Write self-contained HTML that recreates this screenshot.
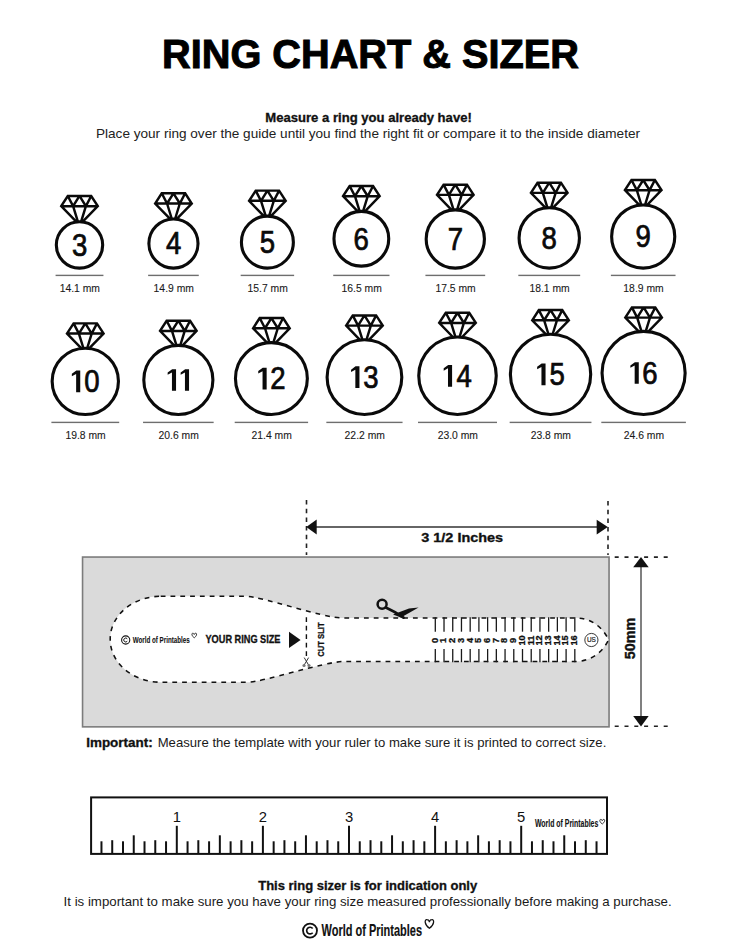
<!DOCTYPE html><html><head><meta charset="utf-8"><style>
html,body{margin:0;padding:0;background:#fff;width:735px;height:951px;overflow:hidden}
svg{display:block}
text{font-family:"Liberation Sans",sans-serif}
</style></head><body>
<svg width="735" height="951" viewBox="0 0 735 951">
<rect width="735" height="951" fill="#fff"/>
<text x="162" y="67.8" font-size="40.4" font-weight="bold" text-anchor="start" fill="#000" textLength="417" lengthAdjust="spacingAndGlyphs" stroke="#000" stroke-width="1">RING CHART &amp; SIZER</text>
<text x="265.3" y="121.8" font-size="12.4" font-weight="bold" text-anchor="start" fill="#111" textLength="206.5" lengthAdjust="spacingAndGlyphs" stroke="#111" stroke-width="0.3">Measure a ring you already have!</text>
<text x="96" y="137.8" font-size="12.4" font-weight="normal" text-anchor="start" fill="#222" textLength="544" lengthAdjust="spacingAndGlyphs" >Place your ring over the guide until you find the right fit or compare it to the inside diameter</text>
<circle cx="79.50" cy="244.93" r="23.18" fill="none" stroke="#0a0a0a" stroke-width="3.1"/>
<path d="M76.50,221.94 L61.20,206.17 L67.80,195.97 L91.20,195.97 L97.80,206.17 L82.50,221.94 M61.20,206.17 L97.80,206.17 M67.80,195.97 L73.10,206.17 M79.50,195.97 L73.10,206.17 M79.50,195.97 L85.90,206.17 L91.20,195.97 M73.10,206.17 L77.95,221.80 M85.90,206.17 L81.05,221.80" fill="none" stroke="#0a0a0a" stroke-width="2.45" stroke-linejoin="miter" stroke-miterlimit="3"/>
<text x="0" y="0" font-size="30.6" fill="#0a0a0a" stroke="#0a0a0a" stroke-width="0.75" transform="translate(71.92,255.83) scale(0.9,1)">3</text>
<rect x="55.58" y="274.70" width="47.85" height="1.4" fill="#6e6e6e"/>
<text x="0" y="0" font-size="10.9" text-anchor="middle" fill="#1a1a1a" stroke="#1a1a1a" stroke-width="0.1" transform="translate(79.80,291.8) scale(0.95,1)">14.1 mm</text>
<circle cx="173.45" cy="243.53" r="24.57" fill="none" stroke="#0a0a0a" stroke-width="3.1"/>
<path d="M170.33,219.15 L155.15,203.50 L161.75,193.30 L185.15,193.30 L191.75,203.50 L176.57,219.15 M155.15,203.50 L191.75,203.50 M161.75,193.30 L167.05,203.50 M173.45,193.30 L167.05,203.50 M173.45,193.30 L179.85,203.50 L185.15,193.30 M167.05,203.50 L171.85,219.00 M179.85,203.50 L175.05,219.00" fill="none" stroke="#0a0a0a" stroke-width="2.45" stroke-linejoin="miter" stroke-miterlimit="3"/>
<text x="0" y="0" font-size="30.6" fill="#0a0a0a" stroke="#0a0a0a" stroke-width="0.75" transform="translate(165.88,254.43) scale(0.9,1)">4</text>
<rect x="148.12" y="274.70" width="50.65" height="1.4" fill="#6e6e6e"/>
<text x="0" y="0" font-size="10.9" text-anchor="middle" fill="#1a1a1a" stroke="#1a1a1a" stroke-width="0.1" transform="translate(173.75,291.8) scale(0.95,1)">14.9 mm</text>
<circle cx="267.40" cy="242.13" r="25.97" fill="none" stroke="#0a0a0a" stroke-width="3.1"/>
<path d="M264.15,216.35 L249.10,200.84 L255.70,190.64 L279.10,190.64 L285.70,200.84 L270.65,216.35 M249.10,200.84 L285.70,200.84 M255.70,190.64 L261.00,200.84 M267.40,190.64 L261.00,200.84 M267.40,190.64 L273.80,200.84 L279.10,190.64 M261.00,200.84 L265.76,216.20 M273.80,200.84 L269.04,216.20" fill="none" stroke="#0a0a0a" stroke-width="2.45" stroke-linejoin="miter" stroke-miterlimit="3"/>
<text x="0" y="0" font-size="30.6" fill="#0a0a0a" stroke="#0a0a0a" stroke-width="0.75" transform="translate(259.77,253.03) scale(0.9,1)">5</text>
<rect x="240.67" y="274.70" width="53.45" height="1.4" fill="#6e6e6e"/>
<text x="0" y="0" font-size="10.9" text-anchor="middle" fill="#1a1a1a" stroke="#1a1a1a" stroke-width="0.1" transform="translate(267.70,291.8) scale(0.95,1)">15.7 mm</text>
<circle cx="361.35" cy="238.73" r="27.38" fill="none" stroke="#0a0a0a" stroke-width="3.1"/>
<path d="M357.97,211.56 L343.05,196.18 L349.65,185.98 L373.05,185.98 L379.65,196.18 L364.73,211.56 M343.05,196.18 L379.65,196.18 M349.65,185.98 L354.95,196.18 M361.35,185.98 L354.95,196.18 M361.35,185.98 L367.75,196.18 L373.05,185.98 M354.95,196.18 L359.67,211.40 M367.75,196.18 L363.03,211.40" fill="none" stroke="#0a0a0a" stroke-width="2.45" stroke-linejoin="miter" stroke-miterlimit="3"/>
<text x="0" y="0" font-size="30.6" fill="#0a0a0a" stroke="#0a0a0a" stroke-width="0.75" transform="translate(353.60,249.63) scale(0.9,1)">6</text>
<rect x="333.23" y="274.70" width="56.25" height="1.4" fill="#6e6e6e"/>
<text x="0" y="0" font-size="10.9" text-anchor="middle" fill="#1a1a1a" stroke="#1a1a1a" stroke-width="0.1" transform="translate(361.65,291.8) scale(0.95,1)">16.5 mm</text>
<circle cx="455.30" cy="238.98" r="29.12" fill="none" stroke="#0a0a0a" stroke-width="3.1"/>
<path d="M451.76,210.07 L437.00,194.85 L443.60,184.65 L467.00,184.65 L473.60,194.85 L458.84,210.07 M437.00,194.85 L473.60,194.85 M443.60,184.65 L448.90,194.85 M455.30,184.65 L448.90,194.85 M455.30,184.65 L461.70,194.85 L467.00,184.65 M448.90,194.85 L453.57,209.90 M461.70,194.85 L457.03,209.90" fill="none" stroke="#0a0a0a" stroke-width="2.45" stroke-linejoin="miter" stroke-miterlimit="3"/>
<text x="0" y="0" font-size="30.6" fill="#0a0a0a" stroke="#0a0a0a" stroke-width="0.75" transform="translate(447.63,249.88) scale(0.9,1)">7</text>
<rect x="425.43" y="274.70" width="59.75" height="1.4" fill="#6e6e6e"/>
<text x="0" y="0" font-size="10.9" text-anchor="middle" fill="#1a1a1a" stroke="#1a1a1a" stroke-width="0.1" transform="translate(455.60,291.8) scale(0.95,1)">17.5 mm</text>
<circle cx="549.25" cy="237.93" r="30.18" fill="none" stroke="#0a0a0a" stroke-width="3.1"/>
<path d="M545.62,207.97 L530.95,192.85 L537.55,182.65 L560.95,182.65 L567.55,192.85 L552.88,207.97 M530.95,192.85 L567.55,192.85 M537.55,182.65 L542.85,192.85 M549.25,182.65 L542.85,192.85 M549.25,182.65 L555.65,192.85 L560.95,182.65 M542.85,192.85 L547.49,207.80 M555.65,192.85 L551.01,207.80" fill="none" stroke="#0a0a0a" stroke-width="2.45" stroke-linejoin="miter" stroke-miterlimit="3"/>
<text x="0" y="0" font-size="30.6" fill="#0a0a0a" stroke="#0a0a0a" stroke-width="0.75" transform="translate(541.59,248.83) scale(0.9,1)">8</text>
<rect x="518.33" y="274.70" width="61.85" height="1.4" fill="#6e6e6e"/>
<text x="0" y="0" font-size="10.9" text-anchor="middle" fill="#1a1a1a" stroke="#1a1a1a" stroke-width="0.1" transform="translate(549.55,291.8) scale(0.95,1)">18.1 mm</text>
<circle cx="643.20" cy="236.53" r="31.57" fill="none" stroke="#0a0a0a" stroke-width="3.1"/>
<path d="M639.44,205.17 L624.90,190.18 L631.50,179.98 L654.90,179.98 L661.50,190.18 L646.96,205.17 M624.90,190.18 L661.50,190.18 M631.50,179.98 L636.80,190.18 M643.20,179.98 L636.80,190.18 M643.20,179.98 L649.60,190.18 L654.90,179.98 M636.80,190.18 L641.39,205.00 M649.60,190.18 L645.01,205.00" fill="none" stroke="#0a0a0a" stroke-width="2.45" stroke-linejoin="miter" stroke-miterlimit="3"/>
<text x="0" y="0" font-size="30.6" fill="#0a0a0a" stroke="#0a0a0a" stroke-width="0.75" transform="translate(635.55,247.43) scale(0.9,1)">9</text>
<rect x="610.88" y="274.70" width="64.65" height="1.4" fill="#6e6e6e"/>
<text x="0" y="0" font-size="10.9" text-anchor="middle" fill="#1a1a1a" stroke="#1a1a1a" stroke-width="0.1" transform="translate(643.50,291.8) scale(0.95,1)">18.9 mm</text>
<circle cx="85.30" cy="381.35" r="33.15" fill="none" stroke="#0a0a0a" stroke-width="3.1"/>
<path d="M81.40,348.43 L67.00,333.59 L73.60,323.39 L97.00,323.39 L103.60,333.59 L89.20,348.43 M67.00,333.59 L103.60,333.59 M73.60,323.39 L78.90,333.59 M85.30,323.39 L78.90,333.59 M85.30,323.39 L91.70,333.59 L97.00,323.39 M78.90,333.59 L83.45,348.25 M91.70,333.59 L87.15,348.25" fill="none" stroke="#0a0a0a" stroke-width="2.45" stroke-linejoin="miter" stroke-miterlimit="3"/>
<polygon points="76.14,370.55 80.24,370.55 80.24,392.25 76.14,392.25 76.14,373.95 71.84,376.25 71.84,373.85 76.34,370.55" fill="#0a0a0a"/>
<text x="0" y="0" font-size="30.6" fill="#0a0a0a" stroke="#0a0a0a" stroke-width="0.75" transform="translate(84.14,392.25) scale(0.9,1)">0</text>
<rect x="51.40" y="421.70" width="67.80" height="1.4" fill="#6e6e6e"/>
<text x="0" y="0" font-size="10.9" text-anchor="middle" fill="#1a1a1a" stroke="#1a1a1a" stroke-width="0.1" transform="translate(85.60,439.1) scale(0.95,1)">19.8 mm</text>
<circle cx="178.35" cy="379.95" r="34.55" fill="none" stroke="#0a0a0a" stroke-width="3.1"/>
<path d="M174.32,345.64 L160.05,330.92 L166.65,320.72 L190.05,320.72 L196.65,330.92 L182.38,345.64 M160.05,330.92 L196.65,330.92 M166.65,320.72 L171.95,330.92 M178.35,320.72 L171.95,330.92 M178.35,320.72 L184.75,330.92 L190.05,320.72 M171.95,330.92 L176.45,345.45 M184.75,330.92 L180.25,345.45" fill="none" stroke="#0a0a0a" stroke-width="2.45" stroke-linejoin="miter" stroke-miterlimit="3"/>
<polygon points="171.95,369.15 176.05,369.15 176.05,390.85 171.95,390.85 171.95,372.55 167.65,374.85 167.65,372.45 172.15,369.15" fill="#0a0a0a"/>
<polygon points="184.95,369.15 189.05,369.15 189.05,390.85 184.95,390.85 184.95,372.55 180.65,374.85 180.65,372.45 185.15,369.15" fill="#0a0a0a"/>
<rect x="143.05" y="421.70" width="70.60" height="1.4" fill="#6e6e6e"/>
<text x="0" y="0" font-size="10.9" text-anchor="middle" fill="#1a1a1a" stroke="#1a1a1a" stroke-width="0.1" transform="translate(178.65,439.1) scale(0.95,1)">20.6 mm</text>
<circle cx="271.40" cy="378.55" r="35.95" fill="none" stroke="#0a0a0a" stroke-width="3.1"/>
<path d="M267.24,342.84 L253.10,328.26 L259.70,318.06 L283.10,318.06 L289.70,328.26 L275.56,342.84 M253.10,328.26 L289.70,328.26 M259.70,318.06 L265.00,328.26 M271.40,318.06 L265.00,328.26 M271.40,318.06 L277.80,328.26 L283.10,318.06 M265.00,328.26 L269.46,342.65 M277.80,328.26 L273.34,342.65" fill="none" stroke="#0a0a0a" stroke-width="2.45" stroke-linejoin="miter" stroke-miterlimit="3"/>
<polygon points="262.55,367.75 266.65,367.75 266.65,389.45 262.55,389.45 262.55,371.15 258.25,373.45 258.25,371.05 262.75,367.75" fill="#0a0a0a"/>
<text x="0" y="0" font-size="30.6" fill="#0a0a0a" stroke="#0a0a0a" stroke-width="0.75" transform="translate(270.24,389.45) scale(0.9,1)">2</text>
<rect x="234.70" y="421.70" width="73.40" height="1.4" fill="#6e6e6e"/>
<text x="0" y="0" font-size="10.9" text-anchor="middle" fill="#1a1a1a" stroke="#1a1a1a" stroke-width="0.1" transform="translate(271.70,439.1) scale(0.95,1)">21.4 mm</text>
<circle cx="364.45" cy="377.15" r="37.35" fill="none" stroke="#0a0a0a" stroke-width="3.1"/>
<path d="M360.17,340.05 L346.15,325.60 L352.75,315.40 L376.15,315.40 L382.75,325.60 L368.73,340.05 M346.15,325.60 L382.75,325.60 M352.75,315.40 L358.05,325.60 M364.45,315.40 L358.05,325.60 M364.45,315.40 L370.85,325.60 L376.15,315.40 M358.05,325.60 L362.47,339.85 M370.85,325.60 L366.43,339.85" fill="none" stroke="#0a0a0a" stroke-width="2.45" stroke-linejoin="miter" stroke-miterlimit="3"/>
<polygon points="355.35,366.35 359.45,366.35 359.45,388.05 355.35,388.05 355.35,369.75 351.05,372.05 351.05,369.65 355.55,366.35" fill="#0a0a0a"/>
<text x="0" y="0" font-size="30.6" fill="#0a0a0a" stroke="#0a0a0a" stroke-width="0.75" transform="translate(363.37,388.05) scale(0.9,1)">3</text>
<rect x="326.35" y="421.70" width="76.20" height="1.4" fill="#6e6e6e"/>
<text x="0" y="0" font-size="10.9" text-anchor="middle" fill="#1a1a1a" stroke="#1a1a1a" stroke-width="0.1" transform="translate(364.75,439.1) scale(0.95,1)">22.2 mm</text>
<circle cx="457.50" cy="375.75" r="38.75" fill="none" stroke="#0a0a0a" stroke-width="3.1"/>
<path d="M453.09,337.25 L439.20,322.93 L445.80,312.73 L469.20,312.73 L475.80,322.93 L461.91,337.25 M439.20,322.93 L475.80,322.93 M445.80,312.73 L451.10,322.93 M457.50,312.73 L451.10,322.93 M457.50,312.73 L463.90,322.93 L469.20,312.73 M451.10,322.93 L455.48,337.05 M463.90,322.93 L459.52,337.05" fill="none" stroke="#0a0a0a" stroke-width="2.45" stroke-linejoin="miter" stroke-miterlimit="3"/>
<polygon points="447.99,364.95 452.09,364.95 452.09,386.65 447.99,386.65 447.99,368.35 443.69,370.65 443.69,368.25 448.19,364.95" fill="#0a0a0a"/>
<text x="0" y="0" font-size="30.6" fill="#0a0a0a" stroke="#0a0a0a" stroke-width="0.75" transform="translate(456.43,386.65) scale(0.9,1)">4</text>
<rect x="418.00" y="421.70" width="79.00" height="1.4" fill="#6e6e6e"/>
<text x="0" y="0" font-size="10.9" text-anchor="middle" fill="#1a1a1a" stroke="#1a1a1a" stroke-width="0.1" transform="translate(457.80,439.1) scale(0.95,1)">23.0 mm</text>
<circle cx="550.55" cy="374.35" r="40.15" fill="none" stroke="#0a0a0a" stroke-width="3.1"/>
<path d="M546.01,334.46 L532.25,320.27 L538.85,310.07 L562.25,310.07 L568.85,320.27 L555.09,334.46 M532.25,320.27 L568.85,320.27 M538.85,310.07 L544.15,320.27 M550.55,310.07 L544.15,320.27 M550.55,310.07 L556.95,320.27 L562.25,310.07 M544.15,320.27 L548.49,334.25 M556.95,320.27 L552.61,334.25" fill="none" stroke="#0a0a0a" stroke-width="2.45" stroke-linejoin="miter" stroke-miterlimit="3"/>
<polygon points="541.45,363.55 545.55,363.55 545.55,385.25 541.45,385.25 541.45,366.95 537.15,369.25 537.15,366.85 541.65,363.55" fill="#0a0a0a"/>
<text x="0" y="0" font-size="30.6" fill="#0a0a0a" stroke="#0a0a0a" stroke-width="0.75" transform="translate(549.42,385.25) scale(0.9,1)">5</text>
<rect x="509.65" y="421.70" width="81.80" height="1.4" fill="#6e6e6e"/>
<text x="0" y="0" font-size="10.9" text-anchor="middle" fill="#1a1a1a" stroke="#1a1a1a" stroke-width="0.1" transform="translate(550.85,439.1) scale(0.95,1)">23.8 mm</text>
<circle cx="643.60" cy="372.95" r="41.55" fill="none" stroke="#0a0a0a" stroke-width="3.1"/>
<path d="M638.94,331.66 L625.30,317.60 L631.90,307.40 L655.30,307.40 L661.90,317.60 L648.26,331.66 M625.30,317.60 L661.90,317.60 M631.90,307.40 L637.20,317.60 M643.60,307.40 L637.20,317.60 M643.60,307.40 L650.00,317.60 L655.30,307.40 M637.20,317.60 L641.49,331.45 M650.00,317.60 L645.71,331.45" fill="none" stroke="#0a0a0a" stroke-width="2.45" stroke-linejoin="miter" stroke-miterlimit="3"/>
<polygon points="634.67,362.15 638.77,362.15 638.77,383.85 634.67,383.85 634.67,365.55 630.37,367.85 630.37,365.45 634.87,362.15" fill="#0a0a0a"/>
<text x="0" y="0" font-size="30.6" fill="#0a0a0a" stroke="#0a0a0a" stroke-width="0.75" transform="translate(642.35,383.85) scale(0.9,1)">6</text>
<rect x="601.30" y="421.70" width="84.60" height="1.4" fill="#6e6e6e"/>
<text x="0" y="0" font-size="10.9" text-anchor="middle" fill="#1a1a1a" stroke="#1a1a1a" stroke-width="0.1" transform="translate(643.90,439.1) scale(0.95,1)">24.6 mm</text>
<line x1="306.5" y1="500" x2="306.5" y2="555" stroke="#222" stroke-width="1.6" stroke-dasharray="4.5 4.2"/>
<line x1="608" y1="501" x2="608" y2="555" stroke="#222" stroke-width="1.6" stroke-dasharray="4.5 4.2"/>
<line x1="312" y1="527" x2="602" y2="527" stroke="#333" stroke-width="1.4"/>
<polygon points="306.3,527 316.7,519.4 316.7,534.6" fill="#111"/>
<polygon points="607.8,527 596.7,519.8 596.7,534.5" fill="#111"/>
<text x="421.3" y="541.8" font-size="13.4" font-weight="bold" text-anchor="start" fill="#111" textLength="81.8" lengthAdjust="spacingAndGlyphs" stroke="#111" stroke-width="0.35">3 1/2 Inches</text>
<rect x="82.55" y="557.05" width="526.5" height="169.8" fill="#dadada" stroke="#7c7c7c" stroke-width="1.6"/>
<line x1="614.7" y1="557.1" x2="670" y2="557.1" stroke="#222" stroke-width="1.6" stroke-dasharray="4 5.8"/>
<line x1="614.7" y1="726.2" x2="670" y2="726.2" stroke="#222" stroke-width="1.6" stroke-dasharray="4 5.8"/>
<line x1="641" y1="565" x2="641" y2="718" stroke="#808080" stroke-width="2"/>
<polygon points="641,557.1 633.2,567.2 648.7,567.2" fill="#111"/>
<polygon points="641,726.5 633.2,715.9 648.7,715.9" fill="#111"/>
<text x="0" y="0" font-size="14.6" font-weight="bold" text-anchor="middle" fill="#111" stroke="#111" stroke-width="0.4" textLength="41.6" lengthAdjust="spacingAndGlyphs" transform="translate(635.2,638.5) rotate(-90)">50mm</text>
<path d="M160.7,596.3 L245.5,596.3 C262,596.3 322,617.9 342,617.9 L575,617.9 C590,617.9 602,626 608.6,639.7 C602,653.4 590,661.5 575,661.5 L344,661.5 C324,661.5 264,682.2 247,682.2 L160.7,682.2 A50.5,42.85 0 0 1 110.2,639.15 A50.5,42.85 0 0 1 160.7,596.3 Z" fill="#fff" stroke="none"/>
<path d="M160.7,596.3 L245.5,596.3 C262,596.3 322,617.9 342,617.9 L575,617.9 C590,617.9 602,626 608.6,639.7 C602,653.4 590,661.5 575,661.5 L344,661.5 C324,661.5 264,682.2 247,682.2 L160.7,682.2 A50.5,42.85 0 0 1 110.2,639.15 A50.5,42.85 0 0 1 160.7,596.3 Z" fill="none" stroke="#111" stroke-width="1.55" stroke-dasharray="4.8 5"/>
<line x1="306.4" y1="617.2" x2="306.4" y2="656" stroke="#111" stroke-width="1.4" stroke-dasharray="4.8 3.7"/>
<path d="M304.2,657.6 L308.6,665 M308.6,657.6 L304.2,665" stroke="#333" stroke-width="1"/>
<circle cx="304" cy="665.5" r="1.6" fill="#777"/><circle cx="309" cy="665.5" r="1.6" fill="#777"/>
<text x="205.5" y="642.7" font-size="10.2" font-weight="bold" text-anchor="start" fill="#111" textLength="75" lengthAdjust="spacingAndGlyphs" stroke="#111" stroke-width="0.3">YOUR RING SIZE</text>
<polygon points="289,631.8 289,648.1 300.6,640" fill="#111"/>
<text x="0" y="0" font-size="8.8" font-weight="bold" text-anchor="middle" fill="#111" stroke="#111" stroke-width="0.3" textLength="34.5" lengthAdjust="spacingAndGlyphs" transform="translate(324,639.6) rotate(-90)">CUT SLIT</text>
<circle cx="382.1" cy="604.3" r="4.5" fill="none" stroke="#111" stroke-width="2.5"/>
<path d="M385.8,607.4 Q395,611.5 403.5,617.6" fill="none" stroke="#111" stroke-width="2.7" stroke-linecap="round"/>
<polygon points="393,614.5 409,608.6 418.6,607.6 401,617.6" fill="#111"/>
<line x1="435.30" y1="617.2" x2="435.30" y2="631.7" stroke="#1a1a1a" stroke-width="1.3"/>
<line x1="435.30" y1="649" x2="435.30" y2="662.2" stroke="#1a1a1a" stroke-width="1.3"/>
<text x="0" y="0" font-size="9.2" font-weight="bold" text-anchor="middle" fill="#111" stroke="#111" stroke-width="0.3" transform="translate(437.65,640.5) rotate(-90)">0</text>
<line x1="444.02" y1="617.2" x2="444.02" y2="631.7" stroke="#1a1a1a" stroke-width="1.3"/>
<line x1="444.02" y1="649" x2="444.02" y2="662.2" stroke="#1a1a1a" stroke-width="1.3"/>
<text x="0" y="0" font-size="9.2" font-weight="bold" text-anchor="middle" fill="#111" stroke="#111" stroke-width="0.3" transform="translate(446.37,640.5) rotate(-90)">1</text>
<line x1="452.74" y1="617.2" x2="452.74" y2="631.7" stroke="#1a1a1a" stroke-width="1.3"/>
<line x1="452.74" y1="649" x2="452.74" y2="662.2" stroke="#1a1a1a" stroke-width="1.3"/>
<text x="0" y="0" font-size="9.2" font-weight="bold" text-anchor="middle" fill="#111" stroke="#111" stroke-width="0.3" transform="translate(455.09,640.5) rotate(-90)">2</text>
<line x1="461.46" y1="617.2" x2="461.46" y2="631.7" stroke="#1a1a1a" stroke-width="1.3"/>
<line x1="461.46" y1="649" x2="461.46" y2="662.2" stroke="#1a1a1a" stroke-width="1.3"/>
<text x="0" y="0" font-size="9.2" font-weight="bold" text-anchor="middle" fill="#111" stroke="#111" stroke-width="0.3" transform="translate(463.81,640.5) rotate(-90)">3</text>
<line x1="470.18" y1="617.2" x2="470.18" y2="631.7" stroke="#1a1a1a" stroke-width="1.3"/>
<line x1="470.18" y1="649" x2="470.18" y2="662.2" stroke="#1a1a1a" stroke-width="1.3"/>
<text x="0" y="0" font-size="9.2" font-weight="bold" text-anchor="middle" fill="#111" stroke="#111" stroke-width="0.3" transform="translate(472.53,640.5) rotate(-90)">4</text>
<line x1="478.90" y1="617.2" x2="478.90" y2="631.7" stroke="#1a1a1a" stroke-width="1.3"/>
<line x1="478.90" y1="649" x2="478.90" y2="662.2" stroke="#1a1a1a" stroke-width="1.3"/>
<text x="0" y="0" font-size="9.2" font-weight="bold" text-anchor="middle" fill="#111" stroke="#111" stroke-width="0.3" transform="translate(481.25,640.5) rotate(-90)">5</text>
<line x1="487.62" y1="617.2" x2="487.62" y2="631.7" stroke="#1a1a1a" stroke-width="1.3"/>
<line x1="487.62" y1="649" x2="487.62" y2="662.2" stroke="#1a1a1a" stroke-width="1.3"/>
<text x="0" y="0" font-size="9.2" font-weight="bold" text-anchor="middle" fill="#111" stroke="#111" stroke-width="0.3" transform="translate(489.97,640.5) rotate(-90)">6</text>
<line x1="496.34" y1="617.2" x2="496.34" y2="631.7" stroke="#1a1a1a" stroke-width="1.3"/>
<line x1="496.34" y1="649" x2="496.34" y2="662.2" stroke="#1a1a1a" stroke-width="1.3"/>
<text x="0" y="0" font-size="9.2" font-weight="bold" text-anchor="middle" fill="#111" stroke="#111" stroke-width="0.3" transform="translate(498.69,640.5) rotate(-90)">7</text>
<line x1="505.06" y1="617.2" x2="505.06" y2="631.7" stroke="#1a1a1a" stroke-width="1.3"/>
<line x1="505.06" y1="649" x2="505.06" y2="662.2" stroke="#1a1a1a" stroke-width="1.3"/>
<text x="0" y="0" font-size="9.2" font-weight="bold" text-anchor="middle" fill="#111" stroke="#111" stroke-width="0.3" transform="translate(507.41,640.5) rotate(-90)">8</text>
<line x1="513.78" y1="617.2" x2="513.78" y2="631.7" stroke="#1a1a1a" stroke-width="1.3"/>
<line x1="513.78" y1="649" x2="513.78" y2="662.2" stroke="#1a1a1a" stroke-width="1.3"/>
<text x="0" y="0" font-size="9.2" font-weight="bold" text-anchor="middle" fill="#111" stroke="#111" stroke-width="0.3" transform="translate(516.13,640.5) rotate(-90)">9</text>
<line x1="522.50" y1="617.2" x2="522.50" y2="631.7" stroke="#1a1a1a" stroke-width="1.3"/>
<line x1="522.50" y1="649" x2="522.50" y2="662.2" stroke="#1a1a1a" stroke-width="1.3"/>
<text x="0" y="0" font-size="9.2" font-weight="bold" text-anchor="middle" fill="#111" stroke="#111" stroke-width="0.3" transform="translate(524.85,640.5) rotate(-90)">10</text>
<line x1="531.22" y1="617.2" x2="531.22" y2="631.7" stroke="#1a1a1a" stroke-width="1.3"/>
<line x1="531.22" y1="649" x2="531.22" y2="662.2" stroke="#1a1a1a" stroke-width="1.3"/>
<text x="0" y="0" font-size="9.2" font-weight="bold" text-anchor="middle" fill="#111" stroke="#111" stroke-width="0.3" transform="translate(533.57,640.5) rotate(-90)">11</text>
<line x1="539.94" y1="617.2" x2="539.94" y2="631.7" stroke="#1a1a1a" stroke-width="1.3"/>
<line x1="539.94" y1="649" x2="539.94" y2="662.2" stroke="#1a1a1a" stroke-width="1.3"/>
<text x="0" y="0" font-size="9.2" font-weight="bold" text-anchor="middle" fill="#111" stroke="#111" stroke-width="0.3" transform="translate(542.29,640.5) rotate(-90)">12</text>
<line x1="548.66" y1="617.2" x2="548.66" y2="631.7" stroke="#1a1a1a" stroke-width="1.3"/>
<line x1="548.66" y1="649" x2="548.66" y2="662.2" stroke="#1a1a1a" stroke-width="1.3"/>
<text x="0" y="0" font-size="9.2" font-weight="bold" text-anchor="middle" fill="#111" stroke="#111" stroke-width="0.3" transform="translate(551.01,640.5) rotate(-90)">13</text>
<line x1="557.38" y1="617.2" x2="557.38" y2="631.7" stroke="#1a1a1a" stroke-width="1.3"/>
<line x1="557.38" y1="649" x2="557.38" y2="662.2" stroke="#1a1a1a" stroke-width="1.3"/>
<text x="0" y="0" font-size="9.2" font-weight="bold" text-anchor="middle" fill="#111" stroke="#111" stroke-width="0.3" transform="translate(559.73,640.5) rotate(-90)">14</text>
<line x1="566.10" y1="617.2" x2="566.10" y2="631.7" stroke="#1a1a1a" stroke-width="1.3"/>
<line x1="566.10" y1="649" x2="566.10" y2="662.2" stroke="#1a1a1a" stroke-width="1.3"/>
<text x="0" y="0" font-size="9.2" font-weight="bold" text-anchor="middle" fill="#111" stroke="#111" stroke-width="0.3" transform="translate(568.45,640.5) rotate(-90)">15</text>
<line x1="574.82" y1="617.2" x2="574.82" y2="631.7" stroke="#1a1a1a" stroke-width="1.3"/>
<line x1="574.82" y1="649" x2="574.82" y2="662.2" stroke="#1a1a1a" stroke-width="1.3"/>
<text x="0" y="0" font-size="9.2" font-weight="bold" text-anchor="middle" fill="#111" stroke="#111" stroke-width="0.3" transform="translate(577.17,640.5) rotate(-90)">16</text>
<circle cx="591.4" cy="640" r="6.6" fill="none" stroke="#222" stroke-width="0.9"/>
<text x="591.4" y="642.3" font-size="6.4" font-weight="normal" text-anchor="middle" fill="#222" stroke="#222" stroke-width="0.2">US</text>
<circle cx="125.70" cy="640.00" r="4.10" fill="none" stroke="#111" stroke-width="1.07"/>
<path d="M127.26,638.77 A1.97,1.97 0 1 0 127.26,641.23" fill="none" stroke="#111" stroke-width="0.98"/>
<text x="132.70" y="642.70" font-size="9.01" font-weight="bold" fill="#111" stroke="#111" stroke-width="0.09" textLength="57.00" lengthAdjust="spacingAndGlyphs">World of Printables</text>
<path d="M194.25,637.80 C191.22,635.73 191.50,632.97 192.88,633.20 C193.97,633.20 194.25,634.35 194.25,634.58 C194.25,634.35 194.53,633.20 195.62,633.20 C197.00,632.97 197.28,635.73 194.25,637.80Z" fill="none" stroke="#111" stroke-width="0.80"/>
<text x="86.2" y="747.4" font-size="12.6" font-weight="bold" text-anchor="start" fill="#111" textLength="66.5" lengthAdjust="spacingAndGlyphs" stroke="#111" stroke-width="0.3">Important:</text>
<text x="157.7" y="747.4" font-size="12.6" font-weight="normal" text-anchor="start" fill="#1a1a1a" textLength="448.6" lengthAdjust="spacingAndGlyphs" >Measure the template with your ruler to make sure it is printed to correct size.</text>
<rect x="91.1" y="797.4" width="515.9" height="56.5" fill="none" stroke="#111" stroke-width="2"/>
<line x1="101.46" y1="841.3" x2="101.46" y2="854" stroke="#111" stroke-width="2"/>
<line x1="112.22" y1="840.2" x2="112.22" y2="854" stroke="#111" stroke-width="2"/>
<line x1="122.99" y1="841.3" x2="122.99" y2="854" stroke="#111" stroke-width="2"/>
<line x1="133.75" y1="835.3" x2="133.75" y2="854" stroke="#111" stroke-width="2"/>
<line x1="144.51" y1="841.3" x2="144.51" y2="854" stroke="#111" stroke-width="2"/>
<line x1="155.27" y1="840.2" x2="155.27" y2="854" stroke="#111" stroke-width="2"/>
<line x1="166.04" y1="841.3" x2="166.04" y2="854" stroke="#111" stroke-width="2"/>
<line x1="176.80" y1="825.8" x2="176.80" y2="854" stroke="#111" stroke-width="2"/>
<line x1="187.56" y1="841.3" x2="187.56" y2="854" stroke="#111" stroke-width="2"/>
<line x1="198.32" y1="840.2" x2="198.32" y2="854" stroke="#111" stroke-width="2"/>
<line x1="209.09" y1="841.3" x2="209.09" y2="854" stroke="#111" stroke-width="2"/>
<line x1="219.85" y1="835.3" x2="219.85" y2="854" stroke="#111" stroke-width="2"/>
<line x1="230.61" y1="841.3" x2="230.61" y2="854" stroke="#111" stroke-width="2"/>
<line x1="241.38" y1="840.2" x2="241.38" y2="854" stroke="#111" stroke-width="2"/>
<line x1="252.14" y1="841.3" x2="252.14" y2="854" stroke="#111" stroke-width="2"/>
<line x1="262.90" y1="825.8" x2="262.90" y2="854" stroke="#111" stroke-width="2"/>
<line x1="273.66" y1="841.3" x2="273.66" y2="854" stroke="#111" stroke-width="2"/>
<line x1="284.43" y1="840.2" x2="284.43" y2="854" stroke="#111" stroke-width="2"/>
<line x1="295.19" y1="841.3" x2="295.19" y2="854" stroke="#111" stroke-width="2"/>
<line x1="305.95" y1="835.3" x2="305.95" y2="854" stroke="#111" stroke-width="2"/>
<line x1="316.71" y1="841.3" x2="316.71" y2="854" stroke="#111" stroke-width="2"/>
<line x1="327.47" y1="840.2" x2="327.47" y2="854" stroke="#111" stroke-width="2"/>
<line x1="338.24" y1="841.3" x2="338.24" y2="854" stroke="#111" stroke-width="2"/>
<line x1="349.00" y1="825.8" x2="349.00" y2="854" stroke="#111" stroke-width="2"/>
<line x1="359.76" y1="841.3" x2="359.76" y2="854" stroke="#111" stroke-width="2"/>
<line x1="370.52" y1="840.2" x2="370.52" y2="854" stroke="#111" stroke-width="2"/>
<line x1="381.29" y1="841.3" x2="381.29" y2="854" stroke="#111" stroke-width="2"/>
<line x1="392.05" y1="835.3" x2="392.05" y2="854" stroke="#111" stroke-width="2"/>
<line x1="402.81" y1="841.3" x2="402.81" y2="854" stroke="#111" stroke-width="2"/>
<line x1="413.57" y1="840.2" x2="413.57" y2="854" stroke="#111" stroke-width="2"/>
<line x1="424.34" y1="841.3" x2="424.34" y2="854" stroke="#111" stroke-width="2"/>
<line x1="435.10" y1="825.8" x2="435.10" y2="854" stroke="#111" stroke-width="2"/>
<line x1="445.86" y1="841.3" x2="445.86" y2="854" stroke="#111" stroke-width="2"/>
<line x1="456.62" y1="840.2" x2="456.62" y2="854" stroke="#111" stroke-width="2"/>
<line x1="467.39" y1="841.3" x2="467.39" y2="854" stroke="#111" stroke-width="2"/>
<line x1="478.15" y1="835.3" x2="478.15" y2="854" stroke="#111" stroke-width="2"/>
<line x1="488.91" y1="841.3" x2="488.91" y2="854" stroke="#111" stroke-width="2"/>
<line x1="499.67" y1="840.2" x2="499.67" y2="854" stroke="#111" stroke-width="2"/>
<line x1="510.44" y1="841.3" x2="510.44" y2="854" stroke="#111" stroke-width="2"/>
<line x1="521.20" y1="825.8" x2="521.20" y2="854" stroke="#111" stroke-width="2"/>
<line x1="531.96" y1="841.3" x2="531.96" y2="854" stroke="#111" stroke-width="2"/>
<line x1="542.73" y1="840.2" x2="542.73" y2="854" stroke="#111" stroke-width="2"/>
<line x1="553.49" y1="841.3" x2="553.49" y2="854" stroke="#111" stroke-width="2"/>
<line x1="564.25" y1="835.3" x2="564.25" y2="854" stroke="#111" stroke-width="2"/>
<line x1="575.01" y1="841.3" x2="575.01" y2="854" stroke="#111" stroke-width="2"/>
<line x1="585.77" y1="840.2" x2="585.77" y2="854" stroke="#111" stroke-width="2"/>
<line x1="596.54" y1="841.3" x2="596.54" y2="854" stroke="#111" stroke-width="2"/>
<text x="176.80" y="821.8" font-size="14.8" font-weight="normal" text-anchor="middle" fill="#111" >1</text>
<text x="262.90" y="821.8" font-size="14.8" font-weight="normal" text-anchor="middle" fill="#111" >2</text>
<text x="349.00" y="821.8" font-size="14.8" font-weight="normal" text-anchor="middle" fill="#111" >3</text>
<text x="435.10" y="821.8" font-size="14.8" font-weight="normal" text-anchor="middle" fill="#111" >4</text>
<text x="521.20" y="821.8" font-size="14.8" font-weight="normal" text-anchor="middle" fill="#111" >5</text>
<text x="534.90" y="826.90" font-size="10.47" font-weight="bold" fill="#111" stroke="#111" stroke-width="0.10" textLength="63.40" lengthAdjust="spacingAndGlyphs">World of Printables</text>
<path d="M602.25,824.00 C599.12,821.93 599.40,819.17 600.83,819.40 C601.97,819.40 602.25,820.55 602.25,820.78 C602.25,820.55 602.53,819.40 603.67,819.40 C605.10,819.17 605.38,821.93 602.25,824.00Z" fill="none" stroke="#111" stroke-width="0.80"/>
<text x="258.2" y="889.7" font-size="12.6" font-weight="bold" text-anchor="start" fill="#111" textLength="219" lengthAdjust="spacingAndGlyphs" stroke="#111" stroke-width="0.3">This ring sizer is for indication only</text>
<text x="63.6" y="905.9" font-size="13.2" font-weight="normal" text-anchor="start" fill="#1a1a1a" textLength="608" lengthAdjust="spacingAndGlyphs" >It is important to make sure you have your ring size measured professionally before making a purchase.</text>
<circle cx="310.00" cy="930.60" r="7.00" fill="none" stroke="#111" stroke-width="1.82"/>
<path d="M312.66,928.50 A3.36,3.36 0 1 0 312.66,932.70" fill="none" stroke="#111" stroke-width="1.68"/>
<text x="321.60" y="935.50" font-size="15.99" font-weight="bold" fill="#111" stroke="#111" stroke-width="0.16" textLength="100.40" lengthAdjust="spacingAndGlyphs">World of Printables</text>
<path d="M429.40,928.20 C424.01,924.33 424.50,919.17 426.95,919.60 C428.91,919.60 429.40,921.75 429.40,922.18 C429.40,921.75 429.89,919.60 431.85,919.60 C434.30,919.17 434.79,924.33 429.40,928.20Z" fill="none" stroke="#111" stroke-width="1.27"/>
</svg></body></html>
